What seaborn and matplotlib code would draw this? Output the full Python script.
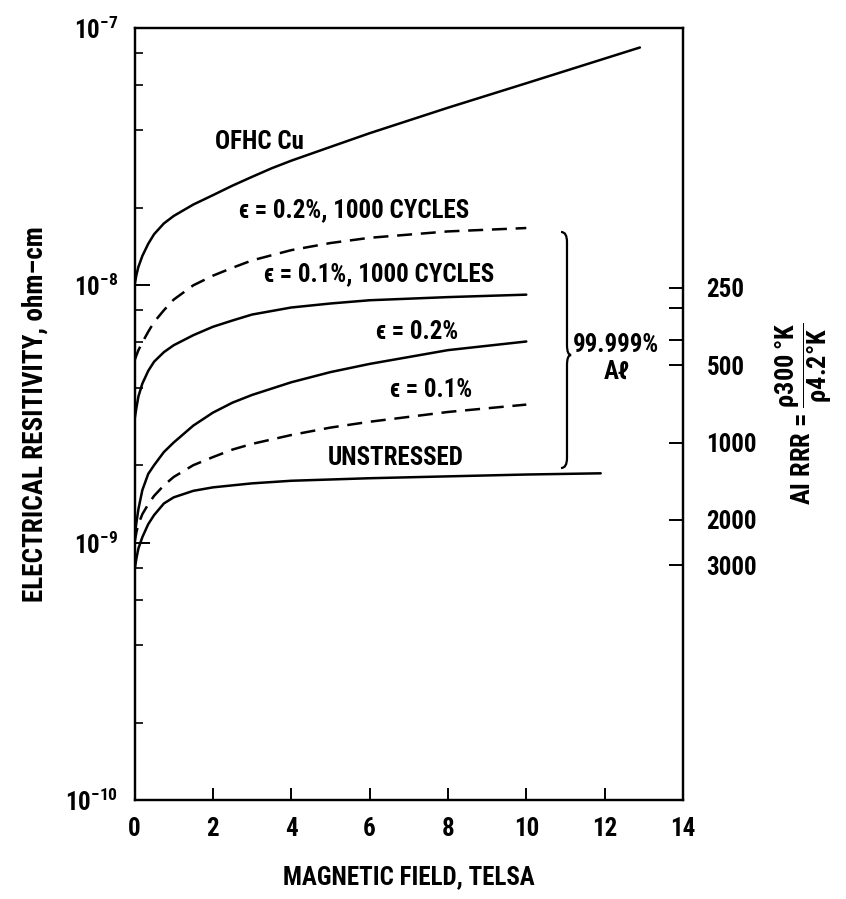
import numpy as np
import pandas as pd
import matplotlib
matplotlib.use("Agg")
import matplotlib.pyplot as plt
from matplotlib.path import Path
from matplotlib.patches import PathPatch
import seaborn as sns

# Curve data (field in tesla, resistivity in ohm-cm)
field_cu = [0, 0.05, 0.1, 0.2, 0.35, 0.5, 0.75, 1.0, 1.5, 2.0, 2.5, 3.0, 3.5, 4.0,
            5.0, 6.0, 8.0, 10.0, 12.9]
rho_cu = [1.0e-8, 1.1e-8, 1.18e-8, 1.3e-8, 1.45e-8, 1.58e-8, 1.74e-8, 1.86e-8,
          2.06e-8, 2.24e-8, 2.44e-8, 2.64e-8, 2.85e-8, 3.05e-8, 3.45e-8, 3.9e-8,
          4.9e-8, 6.1e-8, 8.4e-8]

field_al = [0, 0.05, 0.1, 0.2, 0.35, 0.5, 0.75, 1.0, 1.5, 2.0, 2.5, 3.0, 4.0, 5.0,
            6.0, 8.0, 10.0]
rho_02_cyc = [5.1e-9, 5.35e-9, 5.6e-9, 6.0e-9, 6.6e-9, 7.2e-9, 8.0e-9, 8.8e-9,
              1.0e-8, 1.09e-8, 1.17e-8, 1.25e-8, 1.37e-8, 1.46e-8, 1.53e-8,
              1.62e-8, 1.67e-8]
rho_01_cyc = [3.0e-9, 3.35e-9, 3.7e-9, 4.15e-9, 4.65e-9, 5.05e-9, 5.5e-9, 5.85e-9,
              6.4e-9, 6.9e-9, 7.3e-9, 7.7e-9, 8.2e-9, 8.5e-9, 8.75e-9, 9.0e-9,
              9.2e-9]
rho_02 = [1.05e-9, 1.2e-9, 1.35e-9, 1.6e-9, 1.85e-9, 2.0e-9, 2.25e-9, 2.45e-9,
          2.85e-9, 3.2e-9, 3.5e-9, 3.75e-9, 4.2e-9, 4.6e-9, 4.95e-9, 5.6e-9,
          6.05e-9]
rho_01 = [1.0e-9, 1.1e-9, 1.18e-9, 1.29e-9, 1.41e-9, 1.52e-9, 1.67e-9, 1.8e-9,
          2.0e-9, 2.15e-9, 2.3e-9, 2.42e-9, 2.62e-9, 2.8e-9, 2.95e-9, 3.22e-9,
          3.44e-9]

field_un = [0, 0.05, 0.1, 0.2, 0.35, 0.5, 0.75, 1.0, 1.5, 2.0, 2.5, 3.0, 4.0, 6.0,
            8.0, 10.0, 11.9]
rho_un = [7.8e-10, 8.7e-10, 9.5e-10, 1.05e-9, 1.18e-9, 1.28e-9, 1.42e-9, 1.5e-9,
          1.59e-9, 1.64e-9, 1.67e-9, 1.7e-9, 1.74e-9, 1.78e-9, 1.81e-9, 1.84e-9,
          1.86e-9]

curves = [
    ("OFHC Cu", field_cu, rho_cu, "solid"),
    ("0.2% 1000", field_al, rho_02_cyc, "dashed"),
    ("0.1% 1000", field_al, rho_01_cyc, "solid"),
    ("0.2%", field_al, rho_02, "solid"),
    ("0.1%", field_al, rho_01, "dashed"),
    ("unstressed", field_un, rho_un, "solid"),
]

# labels written next to the curves: (text, field, rho)
curve_labels = [
    ("OFHC Cu", 3.2, 3.6e-8),
    ("\u03f5 = 0.2%, 1000 CYCLES", 5.6, 1.96e-8),
    ("\u03f5 = 0.1%, 1000 CYCLES", 6.25, 1.1e-8),
    ("\u03f5 = 0.2%", 7.21, 6.6e-9),
    ("\u03f5 = 0.1%", 7.57, 3.92e-9),
    ("UNSTRESSED", 6.67, 2.13e-9),
]

# right-hand axis: Al residual resistivity ratio
rho_300 = 2.45e-6
rrr_ticks = [250, 300, 400, 500, 1000, 2000, 3000]
rrr_labels = ["250", "", "", "500", "1000", "2000", "3000"]

x_ticks = [0, 2, 4, 6, 8, 10, 12, 14]

sns.set_style("ticks")
plt.rcParams["font.family"] = ["Roboto Condensed", "Saira SemiCondensed", "DejaVu Sans"]
plt.rcParams["font.weight"] = "bold"
plt.rcParams["axes.labelweight"] = "bold"
plt.rcParams["mathtext.default"] = "regular"
for key in ("text.color", "axes.labelcolor", "xtick.color", "ytick.color"):
    plt.rcParams[key] = "black"

fig = plt.figure(figsize=(8.46, 8.99), dpi=100)
ax = fig.add_axes([134.5 / 846, 1 - 800 / 899, 548.5 / 846, 772 / 899])

dash = (6, 3.5)
for name, xs, ys, style in curves:
    df = pd.DataFrame({"field": xs, "rho": ys})
    line_kw = dict(linestyle="-") if style == "solid" else dict(dashes=dash)
    sns.lineplot(data=df, x="field", y="rho", ax=ax, color="black",
                 linewidth=1.8, sort=False, **line_kw)

ax.set_yscale("log")
ax.set_xlim(0, 14)
ax.set_ylim(1e-10, 1e-7)
ax.set_xticks(x_ticks)
ax.yaxis.set_minor_locator(matplotlib.ticker.LogLocator(base=10, subs=[2, 4, 6, 8]))
ax.yaxis.set_minor_formatter(matplotlib.ticker.NullFormatter())
ax.tick_params(axis="both", which="major", direction="in", labelsize=18,
               width=1.4, pad=12)
ax.tick_params(axis="x", which="major", length=9)
ax.tick_params(axis="y", which="major", length=11)
ax.tick_params(axis="y", which="minor", direction="in", length=6, width=1.2)
for sp in ax.spines.values():
    sp.set_linewidth(1.6)
    sp.set_color("black")

ax.set_xlabel("MAGNETIC FIELD, TELSA", fontsize=18, labelpad=18)
ax.set_ylabel("ELECTRICAL RESITIVITY, ohm\u2013cm", fontsize=19.5, labelpad=12)

for text, fx, fy in curve_labels:
    ax.text(fx, fy, text, fontsize=18, ha="center", va="center")

# curly brace grouping the aluminium curves
xl, x0, xt = 0.7776, 0.7885, 0.796
yt, ym, yb = 0.7358, 0.5764, 0.430
r = 0.013
verts = [(xl, yt), (x0, yt), (x0, yt - r), (x0, ym + r), (x0, ym), (xt, ym),
         (x0, ym), (x0, ym - r), (x0, yb + r), (x0, yb), (xl, yb)]
codes = [Path.MOVETO, Path.CURVE3, Path.CURVE3, Path.LINETO, Path.CURVE3, Path.CURVE3,
         Path.CURVE3, Path.CURVE3, Path.LINETO, Path.CURVE3, Path.CURVE3]
ax.add_patch(PathPatch(Path(verts, codes), transform=ax.transAxes, fill=False,
                       edgecolor="black", linewidth=1.6))
ax.text(12.3, 5.2e-9, "99.999%\nA\u2113", fontsize=18, ha="center", va="center",
        linespacing=1.1)

# right axis with RRR scale
ax2 = ax.twinx()
ax2.set_yscale("log")
ax2.set_ylim(ax.get_ylim())
ax2.set_yticks([rho_300 / v for v in rrr_ticks], labels=rrr_labels)
ax2.yaxis.set_minor_locator(matplotlib.ticker.NullLocator())
ax2.tick_params(axis="y", direction="in", length=10, width=1.4, labelsize=18, pad=17)
for sp in ax2.spines.values():
    sp.set_linewidth(1.6)
    sp.set_color("black")
ax2.set_ylabel(r"Al RRR = $\dfrac{\rho 300\,°K}{\rho 4.2°K}$", fontsize=19, labelpad=12)

fig.savefig("out.png", dpi=100)
